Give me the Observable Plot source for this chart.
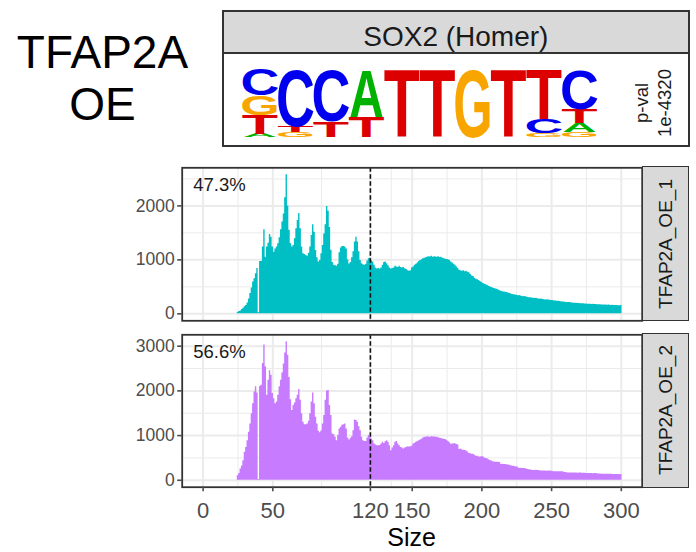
<!DOCTYPE html>
<html><head><meta charset="utf-8">
<script src="https://cdn.jsdelivr.net/npm/d3@7"></script>
<script src="https://cdn.jsdelivr.net/npm/@observablehq/plot@0.6"></script>
<style>
body{margin:0;background:#fff;font-family:"Liberation Sans",Arial,sans-serif;}
#root{position:relative;width:696px;height:552px;overflow:hidden;background:#fff;}
.abs{position:absolute;}
</style></head><body><div id="root"></div>
<script>
// ---------- data ----------
const titleLines = ["TFAP2A", "OE"];
const motifName = "SOX2 (Homer)";
const pvalLabel = "p-val\n1e-4320";
const motifPos = [1,2,3,4,5,6,7,8,9,10];
const motifA = [0.05, 0,    0,    0.70, 0, 0, 0, 0, 0,    0.13];
const motifC = [0.38, 0.83, 0.76, 0,    0, 0, 0, 0, 0.21, 0.585];
const motifG = [0.29, 0.08, 0,    0,    0, 0, 1, 0, 0.06, 0.075];
const motifT = [0.28, 0.09, 0.24, 0.30, 1, 1, 0, 1, 0.73, 0.21];

const sampleNames = ["TFAP2A_OE_1", "TFAP2A_OE_2"];
const sampleColors = ["#00BFC4", "#C77CFF"];
const samplePct = ["47.3%", "56.6%"];
const xTicks = [0, 50, 120, 150, 200, 250, 300];
const xMinor = [25, 85, 135, 175, 225, 275];
const yTicks1 = [0, 1000, 2000];
const yTicks2 = [0, 1000, 2000, 3000];
const yMinor = [500, 1500, 2500];
const cutoff = 120;
const sizes = d3.range(25, 301); // fragment size bins (bp)

const counts1 = [
 25, 45, 55, 80, 105, 130, 155, 200, 275, 375,
 480, 590, 650, 745, 840, 20, 970, 970, 1240, 1560,
 1050, 1240, 1310, 1470, 1420, 1240, 1140, 1200, 1240, 1300,
 1410, 1560, 1700, 1850, 2150, 2577, 2000, 1550, 1300, 1240,
 1265, 1390, 1575, 1730, 1860, 1575, 1240, 1115, 1100, 1080,
 1065, 1125, 1240, 1450, 1650, 1510, 1175, 1040, 960, 990,
 1115, 1265, 1480, 1650, 1990, 1900, 1600, 1180, 950, 900,
 890, 880, 920, 1130, 1220, 1250, 1250, 1240, 1200, 1000,
 925, 950, 1040, 1150, 1330, 1420, 1330, 1150, 990, 930,
 910, 900, 920, 980, 1020, 1030, 980, 960, 900, 850,
 830, 840, 830, 850, 900, 950, 960, 930, 890, 850,
 830, 840, 850, 880, 870, 860, 880, 860, 850, 860,
 835, 820, 800, 790, 800, 850, 870, 900, 920, 940,
 970, 990, 1000, 1020, 1030, 1040, 1050, 1060, 1055, 1065,
 1050, 1060, 1055, 1050, 1060, 1045, 1050, 1030, 1020, 1010,
 1005, 1000, 990, 960, 940, 920, 900, 870, 840, 810,
 800, 790, 800, 780, 790, 770, 760, 730, 700, 690,
 660, 640, 630, 620, 600, 580, 560, 550, 540, 530,
 510, 500, 490, 480, 470, 460, 455, 440, 430, 420,
 410, 405, 400, 395, 385, 375, 370, 360, 355, 350,
 345, 335, 340, 330, 320, 315, 320, 310, 305, 300,
 300, 295, 290, 285, 290, 280, 275, 270, 275, 265,
 260, 258, 262, 255, 250, 245, 248, 240, 238, 235,
 232, 228, 225, 220, 218, 215, 212, 208, 210, 205,
 200, 198, 195, 196, 192, 190, 188, 186, 185, 183,
 182, 180, 178, 176, 175, 178, 172, 175, 170, 168,
 170, 166, 164, 165, 162, 160, 162, 158, 156, 158,
 155, 154, 156, 152, 150, 154
];
const counts2 = [
 100, 150, 250, 320, 435, 625, 735, 885, 1075, 1260,
 1490, 1710, 1975, 2090, 1950, 20, 2100, 2125, 2615, 3025,
 2540, 1900, 2240, 2450, 2350, 1940, 1825, 1710, 1750, 1900,
 2090, 2240, 2400, 2600, 2850, 3100, 2800, 2300, 1800, 1560,
 1675, 1730, 1825, 1900, 2030, 1790, 1490, 1300, 1245, 1245,
 1260, 1320, 1490, 1750, 1950, 1710, 1410, 1260, 1095, 1065,
 1110, 1260, 1450, 1790, 2000, 2010, 1675, 1450, 1035, 1020,
 960, 885, 1000, 1150, 1185, 1230, 1245, 1260, 1150, 945,
 900, 940, 975, 1110, 1350, 1335, 1300, 1200, 1110, 960,
 885, 870, 870, 945, 1000, 960, 925, 885, 810, 790,
 775, 770, 780, 810, 850, 825, 860, 885, 850, 775,
 660, 720, 775, 850, 870, 810, 775, 735, 720, 700,
 720, 735, 750, 745, 750, 760, 810, 830, 850, 870,
 885, 900, 920, 945, 960, 965, 975, 970, 960, 975,
 970, 975, 965, 960, 950, 940, 935, 925, 920, 915,
 890, 865, 840, 805, 810, 820, 820, 800, 790, 690,
 700, 680, 670, 665, 655, 630, 600, 595, 585, 580,
 560, 540, 535, 520, 520, 525, 525, 500, 485, 480,
 460, 445, 430, 415, 410, 405, 405, 405, 400, 355,
 360, 355, 355, 345, 340, 335, 325, 315, 315, 300,
 295, 290, 265, 268, 265, 262, 265, 250, 240, 235,
 232, 225, 220, 220, 222, 218, 220, 210, 205, 205,
 208, 205, 200, 205, 205, 200, 195, 192, 190, 190,
 188, 190, 192, 190, 178, 172, 168, 165, 165, 162,
 160, 160, 162, 160, 158, 160, 160, 158, 158, 155,
 152, 150, 150, 152, 150, 148, 150, 150, 145, 140,
 138, 136, 135, 137, 135, 133, 135, 134, 132, 130,
 131, 129, 128, 130, 126, 128
];

// ---------- helpers ----------
const FONT = "'Liberation Sans', Arial, Helvetica, sans-serif";
const root = document.getElementById("root");
function place(el, css){ const d=document.createElement("div"); d.className="abs"; Object.assign(d.style, css); if (el) d.appendChild(el); root.appendChild(d); return d; }
function scaleFn(plot, name){
  const s = plot.scale(name);
  if (s && typeof s.apply === "function") return v => s.apply(v);
  const [d0,d1] = s.domain, [r0,r1] = s.range;
  return v => r0 + (v-d0)/(d1-d0)*(r1-r0);
}

// ---------- title ----------
const t = place(null, {left:"0px", top:"26px", width:"205px", textAlign:"center", fontSize:"46px", lineHeight:"52px", color:"#000", fontFamily:FONT});
t.innerHTML = titleLines.join("<br>");

// ---------- motif box ----------
place(null, {left:"221.7px", top:"9.7px", width:"468.3px", height:"137px", border:"2px solid #333", boxSizing:"border-box", background:"#fff"});
place(null, {left:"223.7px", top:"11.7px", width:"464.3px", height:"42.6px", background:"#D9D9D9", borderBottom:"2px solid #333", boxSizing:"border-box"});
const mt = place(null, {left:"222.7px", top:"23px", width:"466.3px", textAlign:"center", fontSize:"28px", lineHeight:"28px", color:"#1a1a1a", fontFamily:FONT});
mt.textContent = motifName;

const baseColor = {A:"#00B200", C:"#0000EE", G:"#F8A500", T:"#DD0000"};
const logoRows = [];
motifPos.forEach((p, i) => {
  const items = [["A",motifA[i]],["C",motifC[i]],["G",motifG[i]],["T",motifT[i]]]
    .filter(d => d[1] > 0).sort((a,b) => a[1]-b[1]);
  let acc = 0;
  for (const [b, v] of items) { logoRows.push({pos:p, base:b, y1:acc, y2:acc+v}); acc += v; }
});
const logo = Plot.plot({
  width:696, height:150, marginLeft:241.7, marginRight:99.3, marginTop:68.3, marginBottom:13.3,
  x:{domain:[0.5,10.5], axis:null}, y:{domain:[0,1], axis:null}, color:{type:"identity"},
  style:{background:"transparent", fontFamily:FONT, overflow:"visible"},
  marks:[
    Plot.text(logoRows, {x:"pos", y:"y1", text:"base", fill:d => baseColor[d.base], fontSize:100, fontWeight:"bold", textAnchor:"middle", fontFamily:FONT}),
    Plot.text([pvalLabel], {frameAnchor:"right", dx:54.8, rotate:-90, fontSize:18.5, lineHeight:1.24, fill:"#1a1a1a", textAnchor:"middle"})
  ]
});
place(logo, {left:"0px", top:"0px"});
{
  const xs = scaleFn(logo, "x"), ys = scaleFn(logo, "y");
  const colW = xs(1.5) - xs(0.5);
  const inkW = {A:0.72, C:0.64, G:0.68, T:0.58};
  const g = d3.select(logo).selectAll('g[aria-label="text"]').nodes()[0];
  d3.select(g).selectAll("text").each(function(_, i){
    const r = logoRows[i];
    const cx = xs(r.pos), yb = ys(r.y1), yt = ys(r.y2);
    const scx = colW*0.97/(inkW[r.base]*100), scy = (yb-yt)/71.6;
    ["x","y","dy"].forEach(a => this.removeAttribute(a));
    this.setAttribute("transform", `translate(${cx},${yb}) scale(${scx},${scy})`);
  });
}

// ---------- histogram panels ----------
function panel(counts, color, pct, yTicks, height, mTop, mBottom, showX){
  // histogram outline as a step function over bin edges (bins of width 1 centred on sizes)
  const steps = sizes.flatMap((s, i) => [{x: s - 0.5, v: counts[i]}, {x: s + 0.5, v: counts[i]}]);
  const maxV = d3.max(counts);
  const marks = [
    Plot.ruleX(xMinor, {stroke:"#EBEBEB", strokeWidth:1}),
    Plot.ruleY(yMinor, {stroke:"#EBEBEB", strokeWidth:1}),
    Plot.ruleX(xTicks, {stroke:"#EBEBEB", strokeWidth:2}),
    Plot.ruleY(yTicks, {stroke:"#EBEBEB", strokeWidth:2}),
    Plot.area(steps, {x1:"x", y1:0, y2:"v", fill:color}),
    Plot.ruleX([cutoff], {stroke:"#111", strokeWidth:1.6, strokeDasharray:"4.5,2.5"}),
    Plot.text([pct], {frameAnchor:"top-left", dx:11, dy:10.5, textAnchor:"start", lineAnchor:"top", fontSize:18.5, fill:"#1a1a1a"}),
    Plot.frame({stroke:"#333", strokeWidth:1.8}),
    Plot.axisY({ticks:yTicks, tickFormat:d => String(d), tickSize:4.5, tickPadding:3, fontSize:17.5, strokeWidth:1.6, label:null})
  ];
  if (showX) marks.push(Plot.axisX({ticks:xTicks, tickFormat:d => String(d), tickSize:4.5, tickPadding:10.5, fontSize:22, strokeWidth:1.6, label:null}));
  else marks.push(Plot.axisX({ticks:[], label:null}));
  return Plot.plot({
    width:696, height, marginTop:mTop, marginBottom:mBottom, marginLeft:181.7, marginRight:54.3,
    x:{domain:[-15,315]}, y:{domain:[-0.05*maxV, 1.05*maxV]},
    style:{background:"transparent", fontFamily:FONT, color:"#4d4d4d", overflow:"visible"},
    marks
  });
}
const p1 = panel(counts1, sampleColors[0], samplePct[0], yTicks1, 182, 17.3, 11.7, false);
place(p1, {left:"0px", top:"150px"});
const p2 = panel(counts2, sampleColors[1], samplePct[1], yTicks2, 232, 14.3, 65.3, true);
place(p2, {left:"0px", top:"320px"});

// facet strips
function strip(label, top, h){
  const d = place(null, {left:"641.8px", top:top+"px", width:"47.4px", height:h+"px", border:"1.8px solid #333", boxSizing:"border-box", background:"#D9D9D9", display:"flex", alignItems:"center", justifyContent:"center"});
  const s = document.createElement("span");
  s.textContent = label;
  Object.assign(s.style, {transform:"rotate(-90deg)", whiteSpace:"nowrap", fontSize:"19px", color:"#1a1a1a", fontFamily:FONT, display:"inline-block"});
  d.appendChild(s);
}
strip(sampleNames[0], 166.4, 154.8);
strip(sampleNames[1], 333.4, 154.2);

// x axis title
const xl = place(null, {left:"181.7px", top:"524.7px", width:"460px", textAlign:"center", fontSize:"25px", lineHeight:"25px", color:"#000", fontFamily:FONT});
xl.textContent = "Size";
</script></body></html>
